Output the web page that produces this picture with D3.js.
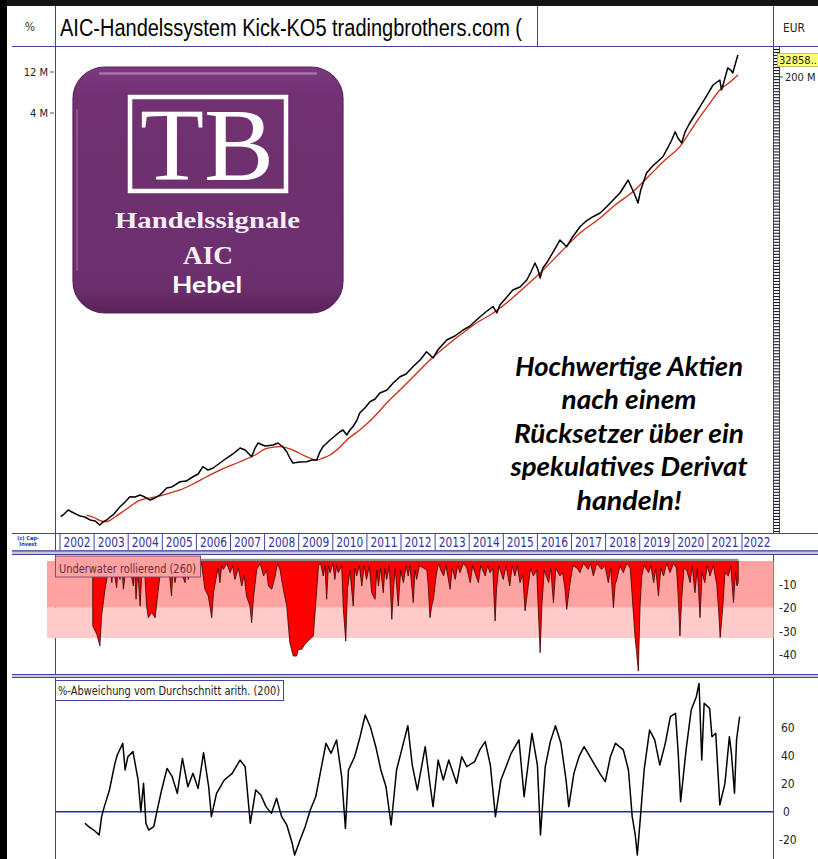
<!DOCTYPE html>
<html><head><meta charset="utf-8">
<script src="https://cdn.jsdelivr.net/npm/d3@7"></script>
<style>body{margin:0;background:#fff}svg{display:block}</style>
</head><body>
<svg id="c" width="818" height="859"></svg>
<script>
// ---------------- DATA ----------------
const yearLabels = d3.range(2002, 2023);
const titleText = "AIC-Handelssystem Kick-KO5  tradingbrothers.com (";
const leftTicks = [4e6, 12e6];
const leftTickLabels = ["4 M", "12 M"];
const lastValueLabel = "32858..";
const rightScaleLabel = "200 M";
const uwTicks = [-10, -20, -30, -40];
const devTicks = [60, 40, 20, 0, -20];
const uwBands = [[0, -20], [-20, -33]];
const promoLines = ["Hochwertige Aktien", "nach einem", "Rücksetzer über ein", "spekulatives Derivat", "handeln!"];

const priceDates = [2002.02,2002.12,2002.24,2002.35,2002.47,2002.59,2002.73,2002.88,2003.03,2003.17,
2003.26,2003.37,2003.47,2003.58,2003.76,2003.91,2004.05,2004.20,2004.35,2004.49,
2004.64,2004.79,2004.93,2005.13,2005.28,2005.52,2005.70,2005.90,2006.05,2006.19,
2006.34,2006.49,2006.69,2006.89,2007.07,2007.28,2007.43,2007.62,2007.72,2007.81,
2008.01,2008.25,2008.39,2008.54,2008.65,2008.74,2008.83,2009.04,2009.23,2009.39,
2009.53,2009.62,2009.71,2009.92,2010.06,2010.21,2010.30,2010.41,2010.50,2010.59,
2010.71,2010.79,2010.94,2011.09,2011.24,2011.38,2011.59,2011.77,2011.97,2012.15,
2012.35,2012.56,2012.75,2012.85,2012.94,2013.08,2013.34,2013.58,2013.82,2014.02,
2014.32,2014.52,2014.70,2014.81,2014.90,2015.08,2015.28,2015.49,2015.69,2015.81,
2015.93,2016.02,2016.08,2016.16,2016.27,2016.46,2016.66,2016.75,2016.86,2017.01,
2017.25,2017.43,2017.63,2017.84,2018.03,2018.22,2018.42,2018.57,2018.66,2018.74,
2018.86,2018.95,2019.03,2019.20,2019.38,2019.68,2019.82,2019.94,2020.04,2020.12,
2020.23,2020.33,2020.47,2020.62,2020.77,2020.94,2021.15,2021.27,2021.35,2021.40,
2021.47,2021.58,2021.67,2021.73,2021.82,2021.88];
const priceValues = [80.2,86.1,95.9,91.0,86.1,81.7,79.6,73.5,71.5,64.1,
69.5,73.5,79.6,86.1,104.7,118.9,137.1,135.8,143.5,135.8,
125.3,132.4,143.5,173.0,177.8,204.6,208.4,233.9,251.8,306.2,
279.9,295.8,338.1,386.4,430.5,504.7,478.6,400.0,504.7,578.1,
533.3,547.0,578.1,518.8,457.1,386.4,338.1,347.5,349.9,366.4,
366.4,453.9,523.6,626.6,696.6,781.6,818.5,716.1,818.5,893.3,
1069,1291,1476,1746,1879,2208,2388,2884,3412,3673,
4467,5346,6668,6109,5636,6982,9120,10160,11940,13270,
17020,19860,22280,18840,23330,28120,34830,37760,45600,56490,
71780,59570,48080,62810,71780,96390,133000,122700,111200,140300,
190100,221300,248300,274200,325100,389000,468800,580800,663700,564900,
444600,358900,508200,801700,966100,1239000,1567000,1941000,2421000,2046000,
1791000,2404000,3062000,3793000,4732000,6138000,8472000,9180000,9680000,7410000,
9180000,13370000,12650000,11690000,15700000,18920000];

const maDates = [2002.78,2003.03,2003.17,2003.37,2003.61,2003.91,2004.35,2004.84,2005.23,2005.52,
2005.90,2006.30,2006.69,2007.28,2007.72,2008.06,2008.45,2008.83,2009.23,2009.53,
2009.71,2009.92,2010.21,2010.41,2010.79,2011.18,2011.58,2011.97,2012.41,2012.85,
2013.29,2013.73,2014.17,2014.70,2015.20,2015.63,2016.08,2016.66,2017.25,2017.84,
2018.28,2018.80,2019.30,2019.74,2020.18,2020.47,2020.77,2021.06,2021.35,2021.65,2021.88];
const maValues = [83.9,77.4,72.4,70.2,79.6,95.9,125.3,137.1,151.4,164.1,
192.8,233.9,279.9,349.9,418.8,501.2,523.6,478.6,400.0,366.4,
386.4,418.8,518.8,626.6,818.5,1130,1687,2388,3573,5346,
7568,10420,14030,18840,26670,37760,54950,93970,160700,239900,
339600,485300,758600,1135000,1622000,2404000,3622000,5224000,7410000,9180000,11070000];

const underwater = [[2002.96,-27.8],[2003.08,-31.4],[2003.17,-36.4],[2003.22,-23.6],[2003.32,-12.1],[2003.39,-6.4],[2003.43,-1],[2003.49,-4],[2003.52,-9.3],[2003.56,-2],
[2003.66,-11.4],[2003.71,-3],[2003.76,-7.9],[2003.81,-2],[2003.86,-12.1],[2003.94,-2],[2004.05,-3],[2004.15,-10.7],[2004.19,-3],[2004.23,-16.4],
[2004.28,-4],[2004.35,-19.3],[2004.39,-7.9],[2004.44,-2],[2004.49,-6.4],[2004.54,-19.3],[2004.59,-24.3],[2004.69,-22.1],[2004.79,-24.3],[2004.85,-16.4],
[2004.93,-6.4],[2004.98,-1],[2005.08,-3.6],[2005.18,-1],[2005.27,-15],[2005.32,-2],[2005.37,-9.3],[2005.47,-2],[2005.67,-9.3],[2005.71,-2],
[2005.76,-7.9],[2005.86,-2],[2006.01,-6.4],[2006.15,-1],[2006.25,-12.1],[2006.35,-15],[2006.45,-24.3],[2006.50,-13.6],[2006.59,-6.4],[2006.64,-3],
[2006.69,-9.3],[2006.74,-2],[2006.79,-3.6],[2006.89,-1],[2006.99,-5],[2007.06,-2],[2007.13,-7.9],[2007.23,-3],[2007.33,-10.7],[2007.40,-6],
[2007.47,-15],[2007.57,-19.3],[2007.62,-26.4],[2007.67,-16.4],[2007.77,-3.6],[2007.87,-1],[2007.97,-6.4],[2008.06,-4],[2008.11,-10.7],[2008.21,-12.1],
[2008.31,-6.4],[2008.38,-1],[2008.45,-3.6],[2008.55,-12.1],[2008.65,-19.3],[2008.74,-35],[2008.84,-40.7],[2008.94,-40.7],[2008.99,-37.8],[2009.09,-37.8],
[2009.18,-35.7],[2009.28,-34.3],[2009.43,-32.1],[2009.48,-22.1],[2009.53,-12.1],[2009.58,-2.1],[2009.64,-1],[2009.72,-6.4],[2009.77,-2],[2009.82,-16.4],
[2009.87,-2],[2009.92,-5],[2010.00,-1],[2010.06,-7.9],[2010.11,-2],[2010.16,-5],[2010.26,-2],[2010.31,-20.7],[2010.38,-34.3],[2010.43,-12.1],
[2010.50,-4],[2010.60,-19.3],[2010.65,-3],[2010.70,-6.4],[2010.78,-2],[2010.85,-10.7],[2010.92,-2],[2010.99,-7.9],[2011.07,-2],[2011.14,-13.6],
[2011.24,-16.4],[2011.29,-4],[2011.34,-10.7],[2011.40,-3],[2011.48,-13.6],[2011.53,-3],[2011.58,-7.9],[2011.66,-2],[2011.73,-25],[2011.78,-12.1],
[2011.83,-3],[2011.92,-19.3],[2011.99,-4],[2012.07,-9.3],[2012.15,-2],[2012.21,-6.4],[2012.26,-2],[2012.36,-17.8],[2012.41,-4],[2012.46,-7.9],
[2012.54,-2],[2012.66,-3],[2012.76,-4],[2012.80,-10.7],[2012.85,-24.3],[2012.90,-19.3],[2012.95,-16.4],[2013.03,-6.4],[2013.10,-1],[2013.17,-4],
[2013.25,-6.4],[2013.32,-2],[2013.44,-12.1],[2013.50,-3],[2013.59,-7.9],[2013.66,-2],[2013.73,-5],[2013.83,-1],[2013.93,-3],[2014.03,-9.3],
[2014.10,-2],[2014.27,-9.3],[2014.34,-2],[2014.47,-6.4],[2014.54,-2],[2014.61,-5],[2014.69,-3],[2014.76,-25.7],[2014.80,-12.1],[2014.87,-2],
[2015.00,-7.9],[2015.08,-2],[2015.19,-10.7],[2015.26,-2],[2015.34,-6.4],[2015.41,-2],[2015.49,-9.3],[2015.57,-6],[2015.64,-21.4],[2015.73,-10.7],
[2015.80,-3],[2015.88,-6.4],[2015.98,-4],[2016.08,-39.3],[2016.13,-19.3],[2016.20,-4],[2016.33,-9.3],[2016.39,-3],[2016.47,-17.8],[2016.54,-3],
[2016.66,-6.4],[2016.74,-5],[2016.81,-12],[2016.86,-20.7],[2016.96,-9.3],[2017.04,-2],[2017.16,-3],[2017.25,-5],[2017.35,-1],[2017.49,-3.6],
[2017.56,-1],[2017.64,-6.4],[2017.74,-1],[2017.88,-3.6],[2017.98,-2],[2018.08,-9.3],[2018.15,-3],[2018.23,-20],[2018.28,-10],[2018.33,-7.9],
[2018.42,-2],[2018.52,-5],[2018.62,-1],[2018.72,-3],[2018.76,-10.7],[2018.86,-32],[2018.91,-39.3],[2018.96,-47.1],[2019.01,-19.3],[2019.06,-6.4],
[2019.13,-2],[2019.26,-5],[2019.33,-2],[2019.41,-9.3],[2019.47,-3],[2019.55,-15],[2019.62,-3],[2019.70,-6.4],[2019.79,-1],[2019.89,-5],
[2019.99,-1],[2020.08,-3],[2020.13,-15],[2020.18,-32.1],[2020.23,-16.4],[2020.30,-3],[2020.38,-4],[2020.48,-9.3],[2020.54,-2],[2020.62,-13.6],
[2020.69,-3],[2020.77,-24.3],[2020.83,-5],[2020.91,-9.3],[2020.98,-2],[2021.06,-6.4],[2021.16,-2],[2021.26,-10],[2021.31,-20],[2021.36,-32.8],
[2021.43,-21],[2021.50,-5],[2021.60,-6.4],[2021.67,-2],[2021.75,-17.8],[2021.81,-5],[2021.85,-10.7],[2021.89,-9.3]];

const deviation = [[2002.73,-8.2],[2002.84,-10.6],[2002.99,-13],[2003.15,-16.5],[2003.22,-3.5],[2003.30,3.6],[2003.45,15.4],[2003.61,34.3],[2003.68,40.2],[2003.84,48.5],
[2003.91,29.6],[2003.99,39],[2004.14,42.6],[2004.29,22.5],[2004.37,0],[2004.45,20.1],[2004.52,-8.3],[2004.60,-13],[2004.75,-10.6],[2004.83,-1.2],
[2004.98,15.4],[2005.14,30.7],[2005.29,24.8],[2005.44,13],[2005.59,37.8],[2005.75,17.7],[2005.90,27.2],[2006.05,16.5],[2006.21,41.9],[2006.36,17.7],
[2006.44,-3.5],[2006.59,13],[2006.82,22.5],[2007.05,27.2],[2007.28,36.6],[2007.43,31.9],[2007.58,-8.2],[2007.74,15.4],[2007.89,11.8],[2008.04,3.6],
[2008.20,-1.2],[2008.35,9.5],[2008.50,-3.5],[2008.65,-9.4],[2008.81,-22.4],[2008.88,-30.7],[2009.04,-20.1],[2009.19,-10.6],[2009.34,1.2],[2009.50,10.6],
[2009.65,29.6],[2009.80,48.5],[2009.95,41.4],[2010.11,50.9],[2010.26,24.8],[2010.37,-11.8],[2010.46,29.6],[2010.64,39],[2010.80,53.2],[2010.95,68.6],
[2011.10,60.3],[2011.26,46.1],[2011.41,29.6],[2011.56,17.7],[2011.71,-9.4],[2011.87,29.6],[2012.10,51.5],[2012.20,61],[2012.33,33.1],[2012.48,15.4],
[2012.71,46.1],[2012.86,17.7],[2012.94,3.6],[2013.09,36.6],[2013.24,22.5],[2013.40,36.6],[2013.63,20.1],[2013.78,39],[2013.93,31.9],[2014.16,35.5],
[2014.31,43.8],[2014.47,49.7],[2014.62,33.1],[2014.77,-3.5],[2014.93,22.5],[2015.08,31.9],[2015.23,41.4],[2015.46,50.9],[2015.61,10.6],[2015.84,55.6],
[2016.00,33.1],[2016.09,-16.5],[2016.23,31.9],[2016.38,49.7],[2016.53,61],[2016.69,48.5],[2016.84,22.5],[2016.92,3.6],[2017.07,27.2],[2017.22,39],
[2017.37,46.1],[2017.60,36.6],[2017.83,27.2],[2017.99,21.3],[2018.14,39],[2018.29,48.5],[2018.52,43.8],[2018.67,29.6],[2018.78,-3.5],[2018.87,-16.5],
[2018.93,-30.7],[2019.03,-1.2],[2019.13,29.6],[2019.29,57.9],[2019.44,50.9],[2019.59,33.1],[2019.75,48.5],[2019.90,67.4],[2020.05,69.8],[2020.13,41.4],
[2020.20,7.1],[2020.36,43.8],[2020.51,72.1],[2020.66,81.6],[2020.74,91],[2020.82,36.6],[2020.89,76.9],[2021.05,73.3],[2021.12,53.2],[2021.23,55.6],
[2021.35,4.8],[2021.50,20.1],[2021.63,53.2],[2021.69,41.4],[2021.78,13.1],[2021.84,50.9],[2021.93,67.4]];

// ---------------- LAYOUT ----------------
const svg = d3.select("#c");
const BLUE = "#4242a6";
const NARROW = "'Liberation Sans Narrow','DejaVu Sans Condensed','Liberation Sans',Arial,sans-serif";
const PL = 55.5, PR = 773.5;
const mainTop = 46.5, mainBot = 533.5, rowBot = 550.5, uwTop = 555, uwBot = 674, devTop = 678, H = 859;

const x = d3.scaleLinear().domain([2002, 2023]).range([60, 60 + 21 * 34.1]);
const yMain = d3.scaleLog().domain([4e6, 12e6]).range([113, 72]);
const yUw = d3.scaleLinear().domain([0, -40]).range([561, 654.4]);
const yDev = d3.scaleLinear().domain([-20, 60]).range([839.9, 727.1]);

svg.append("rect").attr("width", 818).attr("height", 859).attr("fill", "#fff");

const defs = svg.append("defs");
function clip(id, y0, y1) {
  defs.append("clipPath").attr("id", id).append("rect")
    .attr("x", PL).attr("y", y0).attr("width", PR - PL).attr("height", y1 - y0);
}
clip("cMain", mainTop, mainBot);
clip("cUw", uwTop, uwBot);
clip("cDev", devTop, H);

const grad = defs.append("linearGradient").attr("id", "gLogo").attr("x1", 0).attr("y1", 0).attr("x2", 0).attr("y2", 1);
grad.append("stop").attr("offset", "0%").attr("stop-color", "#7a3a7b");
grad.append("stop").attr("offset", "12%").attr("stop-color", "#713172");
grad.append("stop").attr("offset", "90%").attr("stop-color", "#6c2f6e");
grad.append("stop").attr("offset", "100%").attr("stop-color", "#5a2258");

// ---------------- FRAME / HEADER ----------------
svg.append("rect").attr("x", 0).attr("y", 0).attr("width", 818).attr("height", 6).attr("fill", "#151515");
svg.append("rect").attr("x", 0).attr("y", 0).attr("width", 7).attr("height", 859).attr("fill", "#000");

const g = svg.append("g");
function hline(y, x0, x1, col, w) { g.append("line").attr("x1", x0).attr("x2", x1).attr("y1", y).attr("y2", y).attr("stroke", col || BLUE).attr("stroke-width", w || 1); }
function vline(xp, y0, y1, col, w) { g.append("line").attr("x1", xp).attr("x2", xp).attr("y1", y0).attr("y2", y1).attr("stroke", col || BLUE).attr("stroke-width", w || 1); }

hline(mainTop, 12, 818);
vline(PL, 6, H);
vline(537.5, 6, mainTop);
vline(PR, 6, mainBot);
vline(PR, uwTop, H);

g.append("text").attr("x", 30).attr("y", 31).attr("text-anchor", "middle")
  .attr("font-family", NARROW).attr("font-size", 12).attr("fill", "#333").text("%");
g.append("text").attr("x", 60).attr("y", 35.5).attr("font-family", "'Liberation Sans',Arial,sans-serif")
  .attr("font-size", 23).attr("textLength", 462).attr("lengthAdjust", "spacingAndGlyphs").attr("fill", "#000").text(titleText);
g.append("text").attr("x", 783).attr("y", 32).attr("font-family", NARROW).attr("font-size", 12)
  .attr("textLength", 22).attr("lengthAdjust", "spacingAndGlyphs").attr("fill", "#222").text("EUR");

// left axis ticks (log)
leftTicks.forEach((v, i) => {
  const yy = yMain(v);
  g.append("text").attr("x", 48).attr("y", yy + 4).attr("text-anchor", "end")
    .attr("font-family", NARROW).attr("font-size", 11).attr("fill", "#222").text(leftTickLabels[i]);
  g.append("line").attr("x1", 50).attr("x2", 54).attr("y1", yy).attr("y2", yy).attr("stroke", "#555");
});

// right ladder scale
const yLadder = d3.scaleLinear().domain([0, 160]).range([mainBot - 2, mainTop + 3]);
vline(779.5, mainTop, mainBot, BLUE);
g.append("g").selectAll("line").data(d3.range(0, 161)).join("line")
  .attr("x1", PR).attr("x2", 779.5).attr("y1", d => yLadder(d)).attr("y2", d => yLadder(d))
  .attr("stroke", "#1a1a1a").attr("stroke-width", 1.1);

// yellow last value box & label
g.append("rect").attr("x", 777.5).attr("y", 53.5).attr("width", 41).attr("height", 13)
  .attr("fill", "#ffff70").attr("stroke", "#b0b060").attr("stroke-width", 0.8);
g.append("text").attr("x", 779).attr("y", 64).attr("font-family", NARROW).attr("font-size", 11)
  .attr("textLength", 38).attr("lengthAdjust", "spacingAndGlyphs").attr("fill", "#222").text(lastValueLabel);
g.append("line").attr("x1", 780).attr("x2", 783).attr("y1", 77).attr("y2", 77).attr("stroke", "#444");
g.append("text").attr("x", 785).attr("y", 81).attr("font-family", NARROW).attr("font-size", 11)
  .attr("fill", "#222").text(rightScaleLabel);

// ---------------- LOGO ----------------
const lg = svg.append("g");
lg.append("rect").attr("x", 73).attr("y", 67).attr("width", 270).attr("height", 246).attr("rx", 32)
  .attr("fill", "url(#gLogo)").attr("stroke", "#5a2458").attr("stroke-width", 1.2);
lg.append("path").attr("d", "M100,73.5 L316,73.5").attr("stroke", "#b583b6").attr("stroke-width", 2.5)
  .attr("stroke-linecap", "round").attr("opacity", 0.8);
lg.append("path").attr("d", "M77,110 L77,270").attr("stroke", "#9c6a9d").attr("stroke-width", 2)
  .attr("stroke-linecap", "round").attr("opacity", 0.6);
lg.append("rect").attr("x", 130).attr("y", 97).attr("width", 156).attr("height", 94)
  .attr("fill", "none").attr("stroke", "#fff").attr("stroke-width", 4.5);
lg.append("text").attr("x", 207).attr("y", 180).attr("text-anchor", "middle")
  .attr("font-family", "'Liberation Serif','DejaVu Serif',serif").attr("font-size", 104)
  .attr("textLength", 134).attr("lengthAdjust", "spacingAndGlyphs").attr("fill", "#fff").text("TB");
lg.append("text").attr("x", 207.5).attr("y", 228).attr("text-anchor", "middle")
  .attr("font-family", "'Liberation Serif','DejaVu Serif',serif").attr("font-weight", "bold").attr("font-size", 24)
  .attr("textLength", 185).attr("lengthAdjust", "spacingAndGlyphs").attr("fill", "#f4eef4").text("Handelssignale");
lg.append("text").attr("x", 208).attr("y", 264).attr("text-anchor", "middle")
  .attr("font-family", "'Liberation Serif','DejaVu Serif',serif").attr("font-weight", "bold").attr("font-size", 25)
  .attr("textLength", 50).attr("lengthAdjust", "spacingAndGlyphs").attr("fill", "#f4eef4").text("AIC");
lg.append("text").attr("x", 207).attr("y", 293).attr("text-anchor", "middle")
  .attr("font-family", "Lato,'Open Sans',sans-serif").attr("font-weight", "bold").attr("font-size", 23)
  .attr("textLength", 70).attr("lengthAdjust", "spacingAndGlyphs").attr("fill", "#fff").text("Hebel");

// ---------------- MAIN SERIES ----------------
const mainG = svg.append("g").attr("clip-path", "url(#cMain)");
const ma = maDates.map((d, i) => [d, maValues[i]]);
const price = priceDates.map((d, i) => [d, priceValues[i]]);
mainG.append("path").datum(ma)
  .attr("d", d3.line().x(d => x(d[0])).y(d => yMain(d[1])).curve(d3.curveMonotoneX))
  .attr("fill", "none").attr("stroke", "#cf2a12").attr("stroke-width", 1.3);
mainG.append("path").datum(price)
  .attr("d", d3.line().x(d => x(d[0])).y(d => yMain(d[1])))
  .attr("fill", "none").attr("stroke", "#000").attr("stroke-width", 1.5).attr("stroke-linejoin", "round");

// promo text
const promoBase = [376, 409, 442.5, 476, 509.5];
const promoWidth = [228, 135, 230, 237, 105];
promoLines.forEach((t, i) => {
  svg.append("text").attr("x", 629).attr("y", promoBase[i]).attr("text-anchor", "middle")
    .attr("font-family", "Lato,'Open Sans',sans-serif").attr("font-weight", "bold").attr("font-style", "italic")
    .attr("font-size", 26).attr("textLength", promoWidth[i]).attr("lengthAdjust", "spacingAndGlyphs")
    .attr("fill", "#000").text(t);
});

// ---------------- TIME AXIS ROW ----------------
hline(mainBot, 12, 818);
hline(rowBot, 12, 818);
const row = svg.append("g");
row.selectAll("line.yr").data(yearLabels).join("line").attr("class", "yr")
  .attr("x1", d => x(d)).attr("x2", d => x(d)).attr("y1", mainBot).attr("y2", rowBot)
  .attr("stroke", BLUE);
row.selectAll("text.yr").data(yearLabels).join("text").attr("class", "yr")
  .attr("x", d => Math.min(x(d + 0.5), 757)).attr("y", 547).attr("text-anchor", "middle")
  .attr("font-family", NARROW).attr("font-size", 13.5).attr("textLength", 27).attr("lengthAdjust", "spacingAndGlyphs")
  .attr("fill", "#3232a0").text(d => d);
row.append("text").attr("x", 28).attr("y", 540).attr("text-anchor", "middle").attr("font-family", NARROW)
  .attr("font-size", 5.5).attr("font-weight", "bold").attr("fill", "#2a2ab0").text("(c) Cap-");
row.append("text").attr("x", 28).attr("y", 546).attr("text-anchor", "middle").attr("font-family", NARROW)
  .attr("font-size", 5.5).attr("font-weight", "bold").attr("fill", "#2a2ab0").text("Invest");

// separators
function separator(y0, y1) {
  svg.append("rect").attr("x", 12).attr("y", y0).attr("width", 806).attr("height", y1 - y0).attr("fill", "#c9c9d2");
  svg.append("line").attr("x1", 12).attr("x2", 818).attr("y1", y0 + 0.5).attr("y2", y0 + 0.5).attr("stroke", BLUE);
  svg.append("line").attr("x1", 12).attr("x2", 818).attr("y1", y1 - 0.5).attr("y2", y1 - 0.5).attr("stroke", BLUE);
}
separator(rowBot, uwTop);
separator(uwBot, devTop);

// ---------------- UNDERWATER PANEL ----------------
const bandCols = ["#ffa2a2", "#ffcaca"];
uwBands.forEach((b, i) => {
  svg.append("rect").attr("x", 47).attr("y", yUw(b[0])).attr("width", PR - 47)
    .attr("height", yUw(b[1]) - yUw(b[0])).attr("fill", bandCols[i]);
});
const uwG = svg.append("g").attr("clip-path", "url(#cUw)");
uwG.append("path").datum(underwater)
  .attr("d", d3.area().x(d => x(d[0])).y0(yUw(0)).y1(d => yUw(d[1])))
  .attr("fill", "#ff0000").attr("stroke", "#3a0000").attr("stroke-width", 0.8).attr("stroke-linejoin", "round");
uwG.append("line").attr("x1", x(underwater[0][0])).attr("x2", x(underwater[underwater.length - 1][0]))
  .attr("y1", yUw(0) - 1).attr("y2", yUw(0) - 1).attr("stroke", "#8e8e8e").attr("stroke-width", 2.5);
svg.append("rect").attr("x", PL).attr("y", uwTop + 1).attr("width", 145).attr("height", 21)
  .attr("fill", "#ffa2a2").attr("stroke", "#8a4a66").attr("stroke-width", 1);
svg.append("text").attr("x", 59).attr("y", 572.5).attr("font-family", NARROW).attr("font-size", 13)
  .attr("textLength", 137).attr("lengthAdjust", "spacingAndGlyphs").attr("fill", "#6a2a3c").text("Underwater rollierend (260)");
uwTicks.forEach(v => {
  svg.append("text").attr("x", 779).attr("y", yUw(v) + 4.5).attr("font-family", NARROW).attr("font-size", 12)
    .attr("fill", "#222").text(v);
});

// ---------------- DEVIATION PANEL ----------------
const devG = svg.append("g").attr("clip-path", "url(#cDev)");
devG.append("line").attr("x1", PL).attr("x2", PR).attr("y1", yDev(0)).attr("y2", yDev(0))
  .attr("stroke", "#2424c8").attr("stroke-width", 1.6);
devG.append("path").datum(deviation)
  .attr("d", d3.line().x(d => x(d[0])).y(d => yDev(d[1])))
  .attr("fill", "none").attr("stroke", "#000").attr("stroke-width", 1.5).attr("stroke-linejoin", "round");
svg.append("rect").attr("x", PL).attr("y", 680.5).attr("width", 228).attr("height", 20)
  .attr("fill", "#fff").attr("stroke", BLUE).attr("stroke-width", 1);
svg.append("text").attr("x", 58).attr("y", 695).attr("font-family", NARROW).attr("font-size", 12.5)
  .attr("textLength", 222).attr("lengthAdjust", "spacingAndGlyphs").attr("fill", "#222")
  .text("%-Abweichung vom Durchschnitt arith. (200)");
devTicks.forEach(v => {
  svg.append("text").attr("x", v < 0 ? 779 : (v === 0 ? 783 : 781)).attr("y", yDev(v) + 4.5)
    .attr("font-family", NARROW).attr("font-size", 12).attr("fill", "#222").text(v);
});
</script>
</body></html>
